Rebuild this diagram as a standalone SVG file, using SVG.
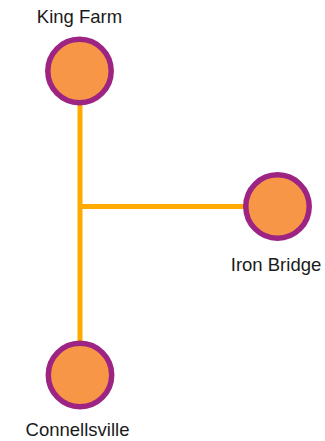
<svg xmlns="http://www.w3.org/2000/svg" width="325" height="441" viewBox="0 0 325 441">
<style>
.edge{stroke:#FFAA00;stroke-width:5;fill:none}
.st{fill:#F79646;stroke:#9E2484;stroke-width:5.5}
.lbl{font-family:"Liberation Sans",Arial,sans-serif;font-size:18.5px;fill:#1a1a1a;text-anchor:middle}
</style>
<rect width="325" height="441" fill="#fff"/>
<g id="connectors">
<line class="edge" x1="80" y1="71" x2="80" y2="375"/>
<line class="edge" x1="80" y1="206.5" x2="277.5" y2="206.5"/>
</g>
<g id="king-farm">
<circle class="st" cx="79.5" cy="71" r="31.7"/>
<text class="lbl" x="79.5" y="23">King Farm</text>
</g>
<g id="iron-bridge">
<circle class="st" cx="277.5" cy="206.5" r="31.7"/>
<text class="lbl" x="276" y="271">Iron Bridge</text>
</g>
<g id="connellsville">
<circle class="st" cx="80" cy="375" r="31.7"/>
<text class="lbl" x="77.5" y="436">Connellsville</text>
</g>
</svg>
